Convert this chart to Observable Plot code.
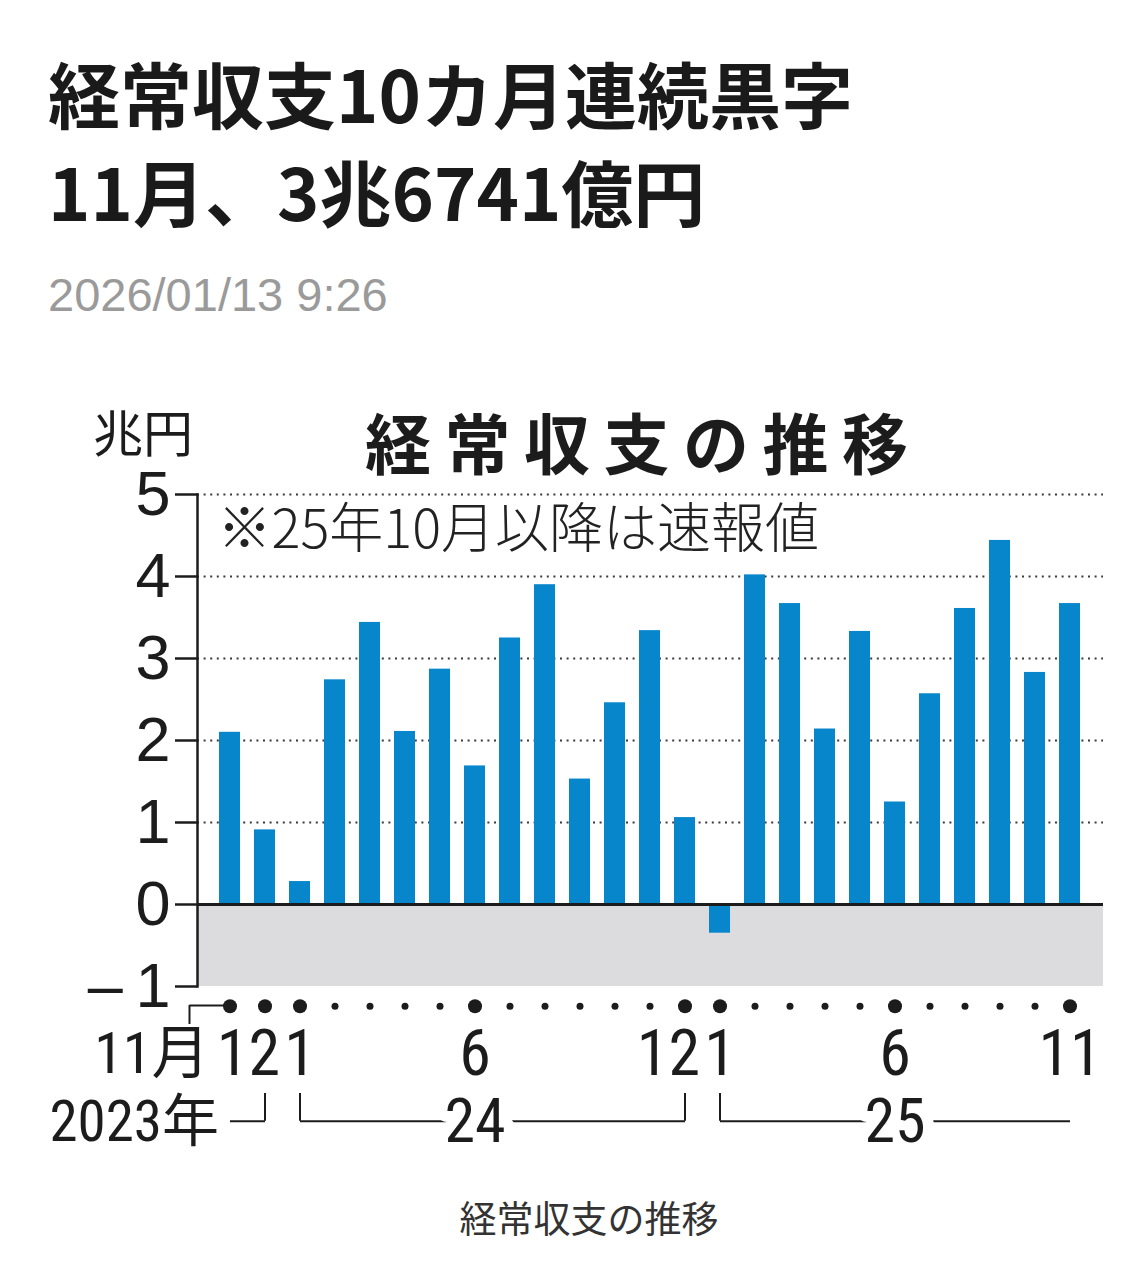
<!DOCTYPE html>
<html lang="ja">
<head>
<meta charset="utf-8">
<script src="https://cdn.jsdelivr.net/npm/d3@7"></script>
<script src="https://cdn.jsdelivr.net/npm/@observablehq/plot@0.6"></script>
<style>
  html, body { margin: 0; padding: 0; background: #fff; }
  #page { position: relative; width: 1147px; height: 1285px; overflow: hidden; }
  .abs { position: absolute; white-space: nowrap; line-height: 1; }
  .head { font-family: "Noto Sans CJK JP", sans-serif; font-weight: 700; font-size: 72px; color: #1a1a1a; left: 48px; }
  .date { font-family: "Liberation Sans", Arial, sans-serif; font-size: 47px; color: #9a9a9a; left: 48px; top: 271px; }
  .ctitle { font-family: "Noto Sans CJK JP", sans-serif; font-weight: 700; font-size: 66px; letter-spacing: 13.5px; color: #1c1c1c; left: 365px; top: 407px; }
  .unit { font-family: "Noto Sans CJK JP", sans-serif; font-weight: 400; font-size: 50px; color: #1c1c1c; left: 93px; top: 405px; }
  .caption { font-family: "Noto Sans CJK JP", sans-serif; font-weight: 400; font-size: 37px; color: #333; left: 389px; width: 400px; text-align: center; top: 1199px; }
  #chart { position: absolute; left: 0; top: 380px; }
</style>
</head>
<body>
<div id="page">
  <div class="abs head" id="h1" style="top:56px"></div>
  <div class="abs head" id="h2" style="top:154px"></div>
  <div class="abs date" id="date"></div>
  <div id="chart"></div>
  <div class="abs ctitle" id="ctitle"></div>
  <div class="abs unit" id="unit"></div>
  <div class="abs caption" id="caption"></div>
</div>
<script>
// ---- data ----
const headline1 = "経常収支10カ月連続黒字";
const headline2 = "11月、3兆6741億円";
const dateText = "2026/01/13 9:26";
const chartTitle = "経常収支の推移";
const unitLabel = "兆円";
const noteText = "※25年10月以降は速報値";
const captionText = "経常収支の推移";

const months = [
  "2023-11","2023-12",
  "2024-01","2024-02","2024-03","2024-04","2024-05","2024-06",
  "2024-07","2024-08","2024-09","2024-10","2024-11","2024-12",
  "2025-01","2025-02","2025-03","2025-04","2025-05","2025-06",
  "2025-07","2025-08","2025-09","2025-10","2025-11"
];
// 経常収支（兆円）
const values = [
  2.10, 0.91,
  0.28, 2.74, 3.44, 2.11, 2.87, 1.69,
  3.25, 3.90, 1.53, 2.46, 3.34, 1.06,
  -0.35, 4.02, 3.67, 2.14, 3.33, 1.25,
  2.57, 3.61, 4.44, 2.83, 3.67
];
const yTicks = [-1, 0, 1, 2, 3, 4, 5];
const gridValues = [1, 2, 3, 4, 5];
const tickMonths = ["2023-11","2023-12","2024-01","2024-06","2024-12","2025-01","2025-06","2025-11"];
const tickLabels = ["11月","12","1","6","12","1","6","11"];
const yearNames  = ["2023年","24","25"];
const yearStarts = ["2023-11","2024-01","2025-01"];
const yearEnds   = ["2023-12","2024-12","2025-11"];
const yearLabelAt = ["2023-11","2024-06","2025-06"];

// ---- text ----
document.getElementById("h1").textContent = headline1;
document.getElementById("h2").textContent = headline2;
document.getElementById("date").textContent = dateText;
document.getElementById("ctitle").textContent = chartTitle;
document.getElementById("unit").textContent = unitLabel;
document.getElementById("caption").textContent = captionText;

// ---- chart ----
const bars = months.map((m, i) => ({month: m, value: values[i]}));
const ticks = tickMonths.map((m, i) => ({month: m, label: tickLabels[i]}));
const years = yearNames.map((n, i) => ({
  name: n, start: yearStarts[i], end: yearEnds[i], at: yearLabelAt[i],
  first: i === 0, last: i === yearNames.length - 1
}));

const ink = "#1c1c1c";
const NUM = '"Liberation Sans Narrow", "Roboto Condensed", "DejaVu Sans Condensed", "Noto Sans CJK JP", sans-serif';
const YF = '"Liberation Sans", Arial, sans-serif';
const CAP_TOP = -2.305, CAP_BOT = -2.643;   // year bracket levels (below frame)
const NOV_TOP = -1.232, NOV_BOT = -1.463;   // first-month bracket levels

const plain = ticks.filter(t => t.label !== "12" && t.month !== months[0]);
const twelves = ticks.filter(t => t.label === "12");
const firstTick = ticks.filter(t => t.month === months[0]);

const svg = Plot.plot({
  width: 1147,
  height: 800,
  marginLeft: 197,
  marginRight: 44,
  marginTop: 114,
  marginBottom: 194,
  style: {background: "transparent", overflow: "visible", fontFamily: YF},
  x: {type: "band", domain: months, paddingInner: 0.39, paddingOuter: 0.45, axis: null},
  y: {domain: [yTicks[0], yTicks[yTicks.length - 1]], axis: null},
  marks: [
    Plot.rect([yTicks], {y1: d => d[0], y2: () => 0, fill: "#dcdcde"}),
    Plot.ruleY(gridValues, {stroke: "#3a3a3a", strokeWidth: 2, strokeDasharray: "2 4.6"}),
    Plot.barY(bars, {x: "month", y: "value", fill: "#0786cc"}),
    Plot.ruleY([0], {stroke: ink, strokeWidth: 3}),
    Plot.frame({anchor: "left", stroke: ink, strokeWidth: 2.5}),
    Plot.axisY({
      ticks: yTicks, tickSize: 22, tickPadding: 5, fontSize: 63, fontFamily: YF,
      tickFormat: d => d < 0 ? "\u2013\u2009" + Math.abs(d) : String(d),
      color: ink, strokeWidth: 2.5, label: null
    }),
    // month dots
    Plot.dot(months.filter(m => !tickMonths.includes(m)), {x: d => d, frameAnchor: "bottom", dy: 19.7, r: 3.5, fill: ink}),
    Plot.dot(tickMonths, {x: d => d, frameAnchor: "bottom", dy: 19.7, r: 7, fill: ink}),
    // first-month bracket
    Plot.ruleX([months[0]], {x: d => d, y1: () => NOV_TOP, y2: () => NOV_BOT, dx: -40.5, stroke: ink, strokeWidth: 2}),
    Plot.tickY([months[0]], {x: d => d, y: () => NOV_TOP, insetLeft: -29.6, insetRight: 10.8, stroke: ink, strokeWidth: 2}),
    // month labels
    Plot.text(plain, {x: "month", text: "label", frameAnchor: "bottom", dy: 68, lineAnchor: "middle", fontSize: 64, fontFamily: NUM, fill: ink}),
    Plot.text(twelves, {x: "month", text: "label", frameAnchor: "bottom", dy: 68, dx: 15, lineAnchor: "middle", textAnchor: "end", fontSize: 64, fontFamily: NUM, fill: ink}),
    Plot.text(firstTick, {x: "month", text: "label", frameAnchor: "bottom", dy: 68, dx: -20.5, lineAnchor: "middle", textAnchor: "end", fontSize: 58, fontFamily: NUM, fill: ink}),
    // year brackets
    Plot.link(years, {x1: "start", x2: "end", y1: () => CAP_BOT, y2: () => CAP_BOT, stroke: ink, strokeWidth: 2}),
    Plot.ruleX(years.filter(d => !d.first), {x: "start", y1: () => CAP_TOP, y2: () => CAP_BOT, stroke: ink, strokeWidth: 2}),
    Plot.ruleX(years.filter(d => !d.last), {x: "end", y1: () => CAP_TOP, y2: () => CAP_BOT, stroke: ink, strokeWidth: 2}),
    Plot.text(years.filter(d => !d.first), {x: "at", text: "name", frameAnchor: "bottom", dy: 136, lineAnchor: "middle", fontSize: 62, fontFamily: NUM, fill: ink, stroke: "white", strokeWidth: 22}),
    Plot.text(years.filter(d => d.first), {x: "at", text: "name", frameAnchor: "bottom", dy: 136, dx: -11, lineAnchor: "middle", textAnchor: "end", fontSize: 57, fontFamily: NUM, fill: ink}),
    // note
    Plot.text([noteText], {text: d => d, frameAnchor: "top-left", dx: 20, dy: 36, lineAnchor: "middle", textAnchor: "start", fontSize: 54, fontFamily: '"Noto Sans CJK JP", sans-serif', fontWeight: 300, fill: "#222"})
  ]
});
document.getElementById("chart").appendChild(svg);
</script>
</body>
</html>
